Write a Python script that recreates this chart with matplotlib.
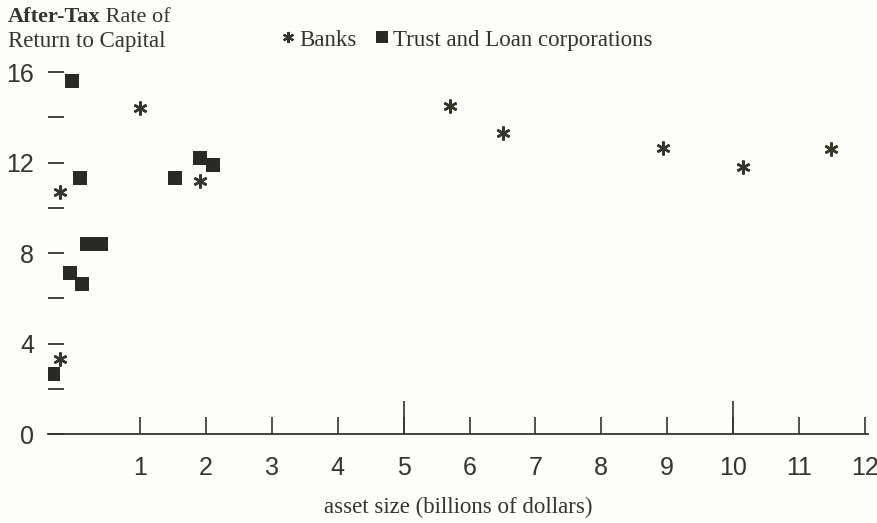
import numpy as np
import matplotlib.pyplot as plt
from matplotlib.lines import Line2D

# data (asset size in billions, after-tax return in %)
banks_x = [0.13, 0.13, 1.0, 1.91, 5.70, 6.51, 8.93, 10.15, 11.49]
banks_y = [3.3, 10.7, 14.4, 11.2, 14.5, 13.3, 12.65, 11.8, 12.6]
trust_x = [0.05, 0.24, 0.37, 0.42, 0.57, 0.35, 0.26, 1.53, 1.91, 2.11]
trust_y = [2.65, 7.1, 6.65, 8.4, 8.4, 11.3, 15.6, 11.3, 12.2, 11.9]
x_ticks = [1, 2, 3, 4, 5, 6, 7, 8, 9, 10, 11, 12]
y_ticks = [0, 4, 8, 12, 16]

ink = '#35352c'
serif = ['Liberation Serif', 'DejaVu Serif']
sans = ['Liberation Sans', 'DejaVu Sans']

# first billion is drawn wider than the rest
def fwd(x):
    x = np.asarray(x, dtype=float)
    return np.where(x < 1, x * 1.4, x + 0.4)

def inv(u):
    u = np.asarray(u, dtype=float)
    return np.where(u < 1.4, u / 1.4, u - 0.4)

fig = plt.figure(figsize=(8.78, 5.23), dpi=100, facecolor='#fdfdf9')
ax = fig.add_axes([48/878, 89/523, 820/878, 373.3/523])
ax.set_facecolor('#fdfdf9')
ax.set_xscale('function', functions=(fwd, inv))
ax.set_xlim(0, 12.05)
ax.set_ylim(0, 16.5)

ax.plot(banks_x, banks_y, ls='none', marker=(6, 2, 0), ms=10, mew=1.8,
        color=ink, label='Banks')
ax.plot(trust_x, trust_y, ls='none', marker='s', ms=9.5, mew=0,
        color='#2a2a24', label='Trust and Loan corporations')

for s in ['top', 'right', 'left']:
    ax.spines[s].set_visible(False)
ax.spines['bottom'].set_color(ink)
ax.spines['bottom'].set_linewidth(1.3)

ax.xaxis.remove_overlapping_locs = False
ax.set_xticks(x_ticks)
ax.set_xticklabels([str(t) for t in x_ticks], family=sans, fontsize=18, color=ink)
ax.set_xticks([5, 10], minor=True)
ax.tick_params(axis='x', which='major', direction='in', length=12.5, width=1.2,
               color=ink, pad=16)
ax.tick_params(axis='x', which='minor', direction='in', length=24, width=1.2,
               color=ink)

ax.set_yticks(y_ticks)
ax.set_yticklabels([str(t) for t in y_ticks], family=sans, fontsize=18, color=ink)
ax.set_yticks([2, 6, 10, 14], minor=True)
ax.tick_params(axis='y', which='both', direction='in', length=11.5, width=1.3,
               color=ink, pad=10)

ax.set_xlabel('asset size (billions of dollars)', family=serif, fontsize=16.5,
              color=ink, labelpad=12)

t1 = fig.text(8/878, 1-17/523, 'After-Tax', family=serif, weight='bold',
              fontsize=16, color=ink, va='center')
ax.annotate(' Rate of', xy=(1, 0.5), xycoords=t1, va='center', ha='left',
            family=serif, fontsize=16, color=ink)
fig.text(8/878, 1-42/523, 'Return to Capital', family=serif, fontsize=16.5,
         color=ink, va='center')

handles = [Line2D([], [], ls='none', marker=(6, 2, 0), ms=8, mew=1.6, color=ink),
           Line2D([], [], ls='none', marker='s', ms=9, mew=0, color='#2a2a24')]
fig.legend(handles, ['Banks', 'Trust and Loan corporations'], loc='center left',
           bbox_to_anchor=(281/878, 1-40/523), ncol=2, frameon=False,
           handlelength=0.6, handletextpad=0.2, columnspacing=0.8,
           borderpad=0, borderaxespad=0, prop={'family': serif, 'size': 16.5},
           labelcolor=ink)

fig.savefig('out.png', dpi=100, facecolor=fig.get_facecolor())
